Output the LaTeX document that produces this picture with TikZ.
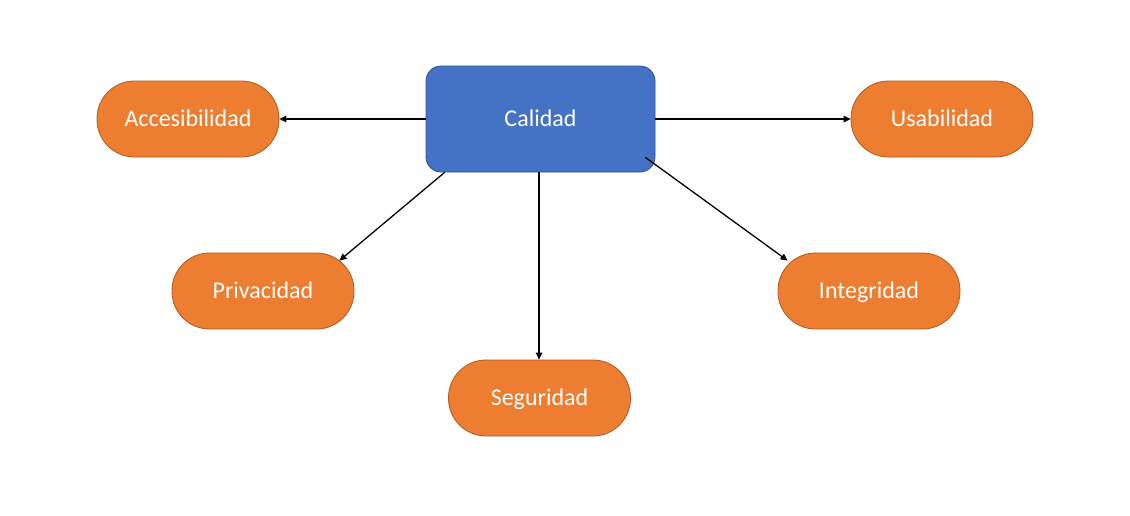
\documentclass[tikz,border=0pt]{standalone}
\usepackage{fontspec}
\setmainfont{Carlito}
\usetikzlibrary{arrows.meta}
\definecolor{orfill}{HTML}{ED7D31}
\definecolor{ordraw}{HTML}{AE5A21}
\definecolor{blfill}{HTML}{4472C4}
\definecolor{bldraw}{HTML}{2F528F}
\tikzset{
  pill/.style={draw=ordraw, fill=orfill, line width=0.8pt, rounded corners=37.5pt,
    minimum width=182pt, minimum height=76pt, inner sep=0pt, text=white,
    font=\fontsize{24}{28}\selectfont, text height=15.5pt, text depth=0pt},
  mainbox/.style={draw=bldraw, fill=blfill, line width=0.8pt, rounded corners=15pt,
    minimum width=229pt, minimum height=106pt, inner sep=0pt, text=white,
    font=\fontsize{24}{28}\selectfont, text height=15.5pt, text depth=0pt},
  conn/.style={line width=1.3pt, -{Triangle[length=7pt,width=6.5pt]}}
}
\begin{document}
\begin{tikzpicture}[x=1pt,y=-1pt]
\useasboundingbox (0,0) rectangle (1130,515);
\node[mainbox] (cal) at (540.5,119) {Calidad};
\node[pill] (acc) at (188,119) {Accesibilidad};
\node[pill] (usa) at (942,119) {Usabilidad};
\node[pill] (pri) at (263,291) {Privacidad};
\node[pill] (int) at (869,291) {Integridad};
\node[pill] (seg) at (539.5,398) {Seguridad};
\draw[conn] (cal.west) -- (acc.east);
\draw[conn] (cal.east) -- (usa.west);
\draw[conn] ([xshift=-1.5pt]cal.south) -- ([xshift=-0.5pt]seg.north);
\draw[conn] ([xshift=19pt]cal.south west) -- ([xshift=-15pt,yshift=-8pt]pri.north east);
\draw[conn] ([xshift=-10pt,yshift=15pt]cal.south east) -- ([xshift=10pt,yshift=-8pt]int.north west);
\end{tikzpicture}
\end{document}
